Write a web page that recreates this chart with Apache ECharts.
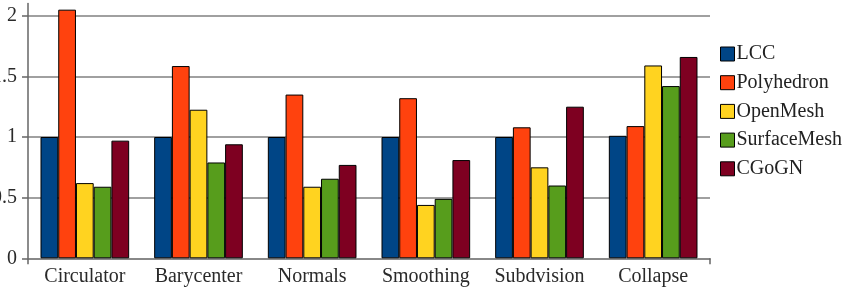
<!DOCTYPE html>
<html><head><meta charset="utf-8">
<script src="https://cdn.jsdelivr.net/npm/echarts@6/dist/echarts.min.js"></script>
<style>html,body{margin:0;padding:0;background:#fff}#c{width:852px;height:291px}</style>
</head><body><div id="c"></div>
<script>
const categories = ['Circulator','Barycenter','Normals','Smoothing','Subdvision','Collapse'];
const LCC         = [1.00, 1.00, 1.00, 1.00, 1.00, 1.01];
const Polyhedron  = [2.05, 1.585, 1.35, 1.32, 1.08, 1.09];
const OpenMesh    = [0.62, 1.225, 0.59, 0.44, 0.75, 1.59];
const SurfaceMesh = [0.59, 0.79, 0.656, 0.49, 0.60, 1.42];
const CGoGN       = [0.97, 0.94, 0.77, 0.81, 1.25, 1.66];
const seriesNames = ['LCC','Polyhedron','OpenMesh','SurfaceMesh','CGoGN'];
const seriesData = [LCC, Polyhedron, OpenMesh, SurfaceMesh, CGoGN];
const colors = ['#004586','#ff420e','#ffd320','#579d1c','#7e0021'];
const FONT = '"Liberation Serif", "DejaVu Serif", serif';

const chart = echarts.init(document.getElementById('c'), null, {renderer:'canvas'});
chart.setOption({
  animation: false,
  color: colors,
  grid: {left: 28, right: 142, top: 3.6, bottom: 32.7, containLabel: false, outerBoundsMode: 'none'},
  legend: {
    orient: 'vertical', left: 720, top: 44, padding: 0,
    itemWidth: 14, itemHeight: 14, itemGap: 8.7,
    icon: 'rect',
    itemStyle: {borderColor: '#000', borderWidth: 1},
    textStyle: {fontFamily: FONT, fontSize: 20, color: '#222', padding: [0,0,0,-3], lineHeight: 16},
    data: seriesNames
  },
  xAxis: {
    type: 'category', data: categories,
    axisLine: {show: true, lineStyle: {color: '#808080', width: 1.5}},
    axisTick: {show: true, length: 6, interval: (index) => index === 0, lineStyle: {color: '#666', width: 1.5}},
    axisLabel: {fontFamily: FONT, fontSize: 20, color: '#2a2a2a', margin: 8, interval: 0}
  },
  yAxis: {
    type: 'value', min: 0, max: 2.1, interval: 0.5,
    axisLine: {show: true, lineStyle: {color: '#666', width: 1.5}},
    axisTick: {show: true, length: 6, lineStyle: {color: '#666', width: 1.5}},
    axisLabel: {fontFamily: FONT, fontSize: 20, color: '#2a2a2a', margin: 11, showMaxLabel: false},
    splitLine: {show: true, showMaxLine: false, lineStyle: {color: '#808080', width: 1.5}}
  },
  series: seriesNames.map((n, i) => ({
    name: n, type: 'bar', data: seriesData[i],
    barGap: '0%', barCategoryGap: '22%',
    itemStyle: {color: colors[i], borderColor: '#000', borderWidth: 1}
  }))
});
</script></body></html>
